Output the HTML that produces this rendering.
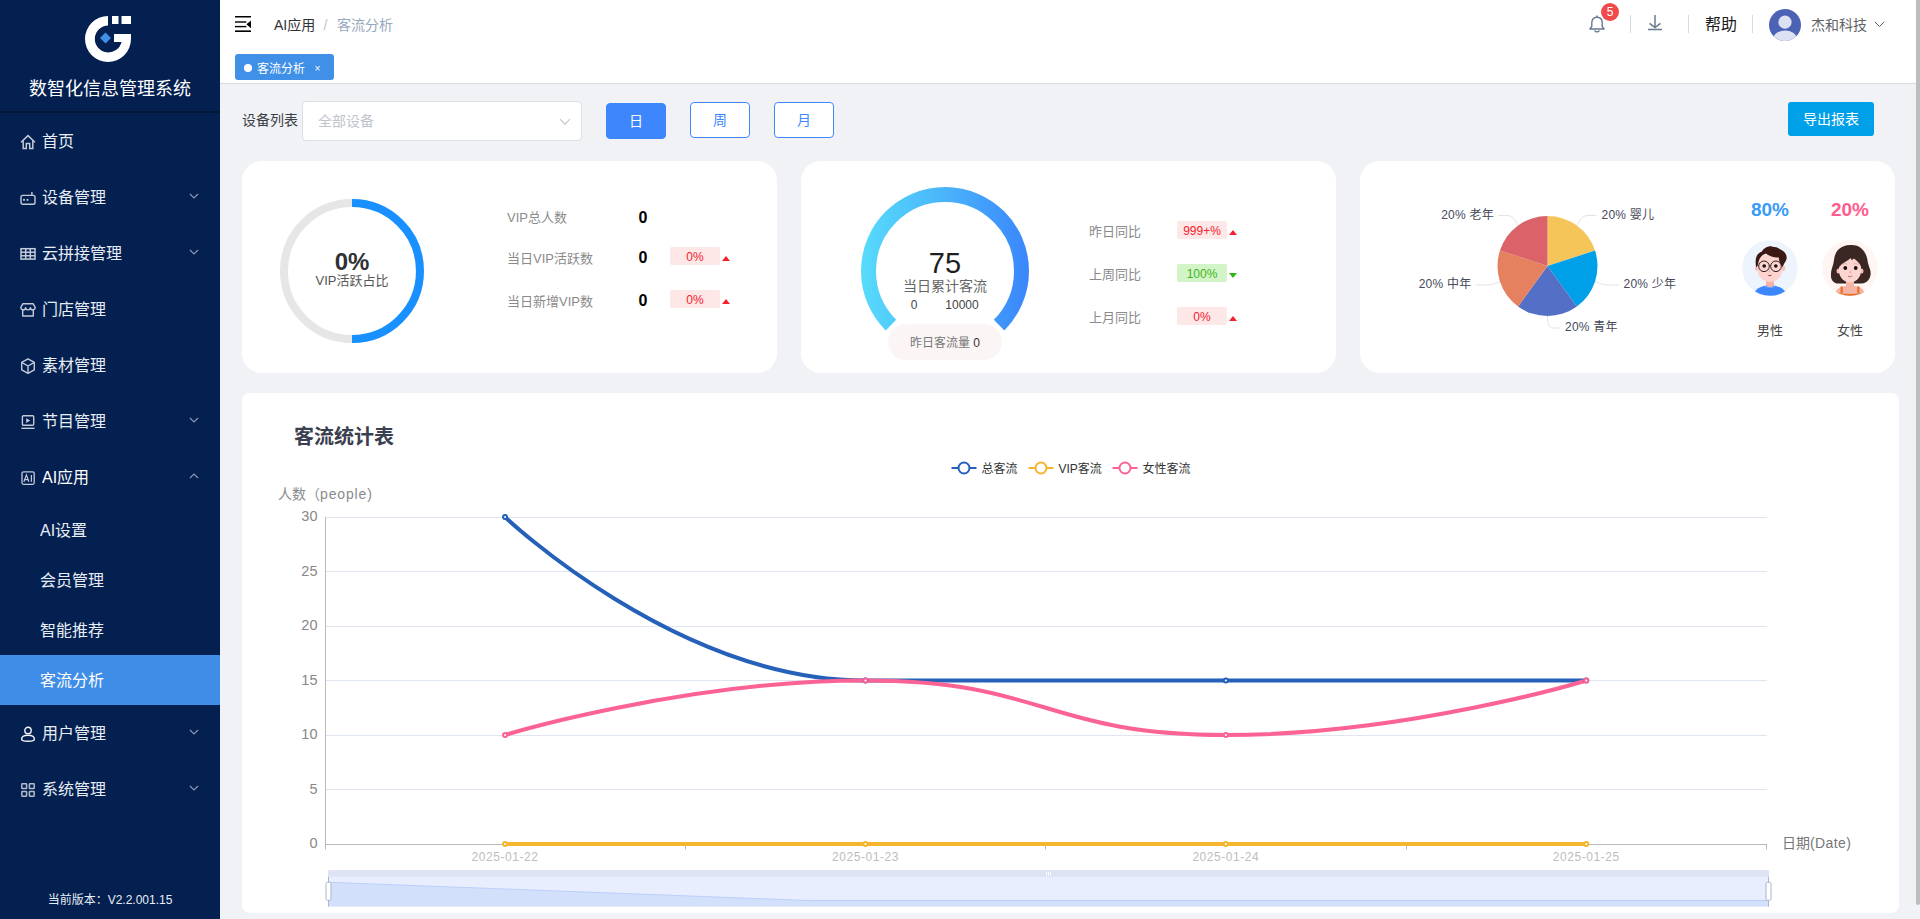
<!DOCTYPE html>
<html lang="zh-CN">
<head>
<meta charset="utf-8">
<title>数智化信息管理系统</title>
<style>
*{box-sizing:border-box;margin:0;padding:0}
html,body{width:1920px;height:919px;overflow:hidden}
body{font-family:"Liberation Sans","Noto Sans CJK SC",sans-serif;background:#f0f2f5;color:#303133;position:relative}
.abs{position:absolute}
/* sidebar */
#side{position:absolute;left:0;top:0;width:220px;height:919px;background:#032050;color:#e6ebf3}
#side .title{position:absolute;left:0;width:220px;top:75.5px;height:26px;line-height:26px;text-align:center;font-size:18px;color:#fff;letter-spacing:0}
#side .divider{position:absolute;left:0;top:111px;width:220px;height:2px;background:#011738}
.mi{position:absolute;left:0;width:220px;height:56px;line-height:56px;font-size:16px;color:#e8edf5;padding-left:42px}
.mi svg.ic{position:absolute;left:20px;top:21px;width:16px;height:16px}
.mi svg.ar{position:absolute;left:189px;top:23px;width:10px;height:8px}
.si{position:absolute;left:0;width:220px;height:50px;line-height:50px;font-size:16px;color:#e8edf5;padding-left:40px}
.si.act{background:#3f8de6;color:#fff}
#ver{position:absolute;left:0;width:220px;top:890.5px;height:18px;line-height:18px;text-align:center;font-size:12px;color:#e8edf5}
/* header */
#hdr{position:absolute;left:220px;top:0;width:1696px;height:50px;background:#fff;box-shadow:0 1px 4px rgba(0,21,41,.08)}
#tags{position:absolute;left:220px;top:50px;width:1696px;height:34px;background:#fff;border-bottom:1px solid #d8dce5}
#tag{position:absolute;left:15px;top:4px;width:99px;height:26px;background:#4090e8;border-radius:3px;color:#fff;font-size:12px;line-height:26px}
#sb{position:absolute;left:1916px;top:0;width:4px;height:919px;background:#f0f2f5}
#sb i{position:absolute;left:0;top:0;width:4px;height:905px;background:#bdbdbd;border-radius:0 0 2px 2px}
.bc{font-size:14px;line-height:21px;white-space:nowrap}
.badge{width:18px;height:18px;border-radius:9px;background:#f04a4a;color:#fff;font-size:12px;line-height:18px;text-align:center}
.sep{width:1px;height:18px;top:15px;background:#d5dbe3}
#tag .dot{position:absolute;left:9px;top:10px;width:8px;height:8px;border-radius:4px;background:#fff}
.mi span,.si span{position:relative;top:1px}
.mi.on{color:#fff}
.t14{font-size:14px;line-height:20px;white-space:nowrap}
.sel{width:280px;height:40px;border:1px solid #dcdfe6;border-radius:4px;background:#fff;font-size:14px;line-height:38px;color:#c0c4cc;padding-left:16px}
.sel span{position:relative;top:0;left:-1px}
.btn{width:60px;height:36px;border:1px solid #4088fc;border-radius:4px;background:#fff;color:#4088fc;font-size:14px;line-height:35px;text-align:center}
.btn.on{background:#3e86fb;border-color:#3e86fb;color:#fff}
.exp{width:86px;height:34px;border-radius:3px;background:#00a0e9;color:#fff;font-size:14px;line-height:34px;text-align:center}
.lab{font-size:13px;line-height:18px;color:#8a8a8a;white-space:nowrap}
.num{width:20px;text-align:center;font-size:16px;line-height:20px;font-weight:bold;color:#000}
.bdg{width:50px;height:18px;border-radius:2px;font-size:12px;line-height:20px;text-align:center}
.bdg.red{background:#fde7e7;color:#f5222d}
.bdg.grn{background:#d3f4c6;color:#3cb41a}
.tri{width:0;height:0;border-left:4.5px solid transparent;border-right:4.5px solid transparent}
.tri.up{border-bottom:5px solid #f5222d}
.tri.dn{border-top:5px solid #2fb813}
.pl{font-size:12px;line-height:18px;color:#464a5a;white-space:nowrap;letter-spacing:.25px}
.pct{width:80px;text-align:center;font-size:19px;line-height:24px;font-weight:bold}
.sex{width:80px;text-align:center;font-size:13px;line-height:20px;color:#444}
.card{position:absolute;background:#fff;border-radius:20px}
</style>
</head>
<body>
<div id="side">
  <svg class="abs" style="left:84px;top:15px" width="48" height="48" viewBox="0 0 48 48">
    <path d="M24 1 A23 23 0 1 0 47 24 L47 19 L30 19 L30 27 L37.5 27 A13.5 13.5 0 1 1 24 10.5 Z" fill="#fff"/>
    <rect x="28" y="1" width="6.5" height="8" fill="#fff"/>
    <rect x="37.5" y="1" width="9.5" height="8" fill="#fff"/>
    <path d="M21.5 17.5 L27 23 L21.5 28.5 L16 23 Z" fill="#4090e8"/>
  </svg>
  <div class="title">数智化信息管理系统</div>
  <div class="divider"></div>
  <div id="menu">
  <div class="mi" style="top:113px"><svg class="ic" viewBox="0 0 16 16" fill="none" stroke="#c3cad8" stroke-width="1.5" stroke-linejoin="miter"><path d="M1 8.2 L8 1.6 L15 8.2"/><path d="M3.2 6.8 V14.6 H6.3 V9.6 H9.7 V14.6 H12.8 V6.8"/></svg><span>首页</span></div>
  <div class="mi" style="top:169px"><svg class="ic" viewBox="0 0 16 16" fill="none" stroke="#c3cad8" stroke-width="1.4"><rect x="1" y="5.4" width="14" height="8.8" rx="1.8"/><path d="M11.900 5 V2"/><rect x="3.100" y="8.900" width="1.800" height="1.900" fill="#c3cad8" stroke="none"/><rect x="6.600" y="8.900" width="1.800" height="1.900" fill="#c3cad8" stroke="none"/></svg><span>设备管理</span><svg class="ar" viewBox="0 0 10 8" fill="none" stroke="#8c9bb8" stroke-width="1.1"><path d="M1 2 L5 6 L9 2"/></svg></div>
  <div class="mi" style="top:225px"><svg class="ic" viewBox="0 0 16 16" fill="none" stroke="#c3cad8" stroke-width="1.500"><rect x="1" y="2.700" width="14" height="10.400"/><path d="M1 6.200 H15 M1 9.700 H15 M5.700 2.700 V13.100 M10.300 2.700 V13.100"/></svg><span>云拼接管理</span><svg class="ar" viewBox="0 0 10 8" fill="none" stroke="#8c9bb8" stroke-width="1.1"><path d="M1 2 L5 6 L9 2"/></svg></div>
  <div class="mi" style="top:281px"><svg class="ic" viewBox="0 0 16 16" fill="none" stroke="#c3cad8" stroke-width="1.400" stroke-linejoin="round"><path d="M2.800 1.800 H13.200 L15.200 5.400 A2.400 2.300 0 0 1 10.400 5.600 A2.400 2.300 0 0 1 5.600 5.600 A2.400 2.300 0 0 1 0.800 5.400 Z"/><path d="M2.700 8 V14 H13.300 V8"/></svg><span>门店管理</span></div>
  <div class="mi" style="top:337px"><svg class="ic" viewBox="0 0 16 16" fill="none" stroke="#c3cad8" stroke-width="1.400" stroke-linejoin="round"><path d="M8 0.800 L14.300 4.400 V11.900 L8 15.300 L1.700 11.900 V4.400 Z"/><path d="M1.700 4.400 L8 8 L14.300 4.400 M8 8 V15.300"/></svg><span>素材管理</span></div>
  <div class="mi" style="top:393px"><svg class="ic" viewBox="0 0 16 16" fill="none" stroke="#c3cad8" stroke-width="1.400"><rect x="2.400" y="1.800" width="11.300" height="9.400" rx="1"/><path d="M1.400 14.300 H14.600"/><path d="M6.200 4.200 L10.200 6.600 L6.200 9 Z" fill="#c3cad8" stroke="none"/></svg><span>节目管理</span><svg class="ar" viewBox="0 0 10 8" fill="none" stroke="#8c9bb8" stroke-width="1.1"><path d="M1 2 L5 6 L9 2"/></svg></div>
  <div class="mi on" style="top:449px"><svg class="ic" viewBox="0 0 16 16" fill="none" stroke="#c3cad8" stroke-width="1.300"><rect x="2" y="1.800" width="12.200" height="12.500" rx="1.500"/><path d="M3.900 11.800 L6.400 4.900 L8.900 11.800 M4.800 9.600 H8 M11.400 4.900 V11.800" stroke-width="1.200"/></svg><span>AI应用</span><svg class="ar" viewBox="0 0 10 8" fill="none" stroke="#8c9bb8" stroke-width="1.1"><path d="M1 6 L5 2 L9 6"/></svg></div>
  <div class="si" style="top:505px"><span>AI设置</span></div>
  <div class="si" style="top:555px"><span>会员管理</span></div>
  <div class="si" style="top:605px"><span>智能推荐</span></div>
  <div class="si act" style="top:655px"><span>客流分析</span></div>
  <div class="mi" style="top:705px"><svg class="ic" viewBox="0 0 16 16" fill="none" stroke="#f2f4f8" stroke-width="1.4"><circle cx="8" cy="4.4" r="3.2"/><path d="M1.6 13.2 C1.6 9.6 4.6 9.2 8 9.2 C11.4 9.2 14.4 9.6 14.4 13.2 C14.4 14.8 12.8 15.2 8 15.2 C3.2 15.2 1.6 14.8 1.6 13.2 Z"/></svg><span>用户管理</span><svg class="ar" viewBox="0 0 10 8" fill="none" stroke="#8c9bb8" stroke-width="1.1"><path d="M1 2 L5 6 L9 2"/></svg></div>
  <div class="mi" style="top:761px"><svg class="ic" viewBox="0 0 16 16" fill="none" stroke="#b4bccb" stroke-width="1.5"><rect x="1.8" y="1.8" width="4.8" height="4.8" rx="0.6"/><rect x="9.4" y="1.8" width="4.8" height="4.8" rx="0.6"/><rect x="1.8" y="9.4" width="4.8" height="4.8" rx="0.6"/><rect x="9.4" y="9.4" width="4.8" height="4.8" rx="0.6"/></svg><span>系统管理</span><svg class="ar" viewBox="0 0 10 8" fill="none" stroke="#8c9bb8" stroke-width="1.1"><path d="M1 2 L5 6 L9 2"/></svg></div>
  </div>
  <div id="ver">当前版本：V2.2.001.15</div>
</div>
<div id="hdr">
  <svg class="abs" style="left:15px;top:16px" width="16" height="16" viewBox="0 0 16 16" fill="#000"><rect x="0" y="0" width="16" height="1.5"/><rect x="0" y="5.3" width="11.4" height="1.4"/><rect x="0" y="9.9" width="11.4" height="1.4"/><rect x="0" y="14.4" width="16" height="1.6"/><path d="M16 4.4 L11.4 8.3 L16 12.2 Z"/></svg>
  <div class="abs bc" style="left:54px;top:15px;color:#303133">AI应用</div>
  <div class="abs bc" style="left:103.5px;top:15px;color:#c0c4cc">/</div>
  <div class="abs bc" style="left:117px;top:15px;color:#97a8be">客流分析</div>
  <svg class="abs" style="left:1367.700px;top:14.700px" width="18" height="18" viewBox="0 0 18 18" fill="none" stroke="#66788e" stroke-width="1.4" stroke-linecap="round" stroke-linejoin="round"><path d="M9 2.200 C5.200 2.200 3.800 5 3.800 7.800 V11.400 L1.900 14 H16.100 L14.200 11.400 V7.800 C14.200 5 12.800 2.200 9 2.200 Z"/><path d="M7 16 C7.400 17.200 10.600 17.200 11 16"/><path d="M9 1 V2"/></svg>
  <div class="abs badge" style="left:1381px;top:3px">5</div>
  <i class="abs sep" style="left:1410px"></i>
  <svg class="abs" style="left:1427px;top:15px" width="16" height="16" viewBox="0 0 16 16" fill="none" stroke="#6a7b90" stroke-width="1.500"><path d="M8 0 V12.400 M2.600 8.300 L8 12.600 L13.400 8.300 M1 14.500 H15"/></svg>
  <i class="abs sep" style="left:1468px"></i>
  <div class="abs" style="left:1485px;top:14px;font-size:16px;line-height:22px;color:#1a1a1a">帮助</div>
  <i class="abs sep" style="left:1532px"></i>
  <svg class="abs" style="left:1548.500px;top:8.500px" width="32" height="32" viewBox="0 0 32 32"><defs><clipPath id="avc"><circle cx="16" cy="16" r="16"/></clipPath></defs><circle cx="16" cy="16" r="16" fill="#4b62b5"/><g clip-path="url(#avc)" fill="#dde2f3"><circle cx="16" cy="13.200" r="6.600"/><ellipse cx="16" cy="29.500" rx="11.500" ry="8"/></g></svg>
  <div class="abs" style="left:1591px;top:15px;font-size:14px;line-height:20px;color:#606266">杰和科技</div>
  <svg class="abs" style="left:1654px;top:21px" width="11" height="7" viewBox="0 0 11 7" fill="none" stroke="#606266" stroke-width="1"><path d="M0.800 0.800 L5.500 5.600 L10.200 0.800"/></svg>
</div>
<div id="tags"><div id="tag"><i class="dot"></i><span class="abs" style="left:22px;top:1.5px">客流分析</span><span class="abs" style="left:79.5px;top:1.5px;font-size:10px">×</span></div></div>
<div id="main">
<div class="abs t14" style="left:242px;top:110.3px;color:#3c3f45">设备列表</div>
<div class="abs sel" style="left:302px;top:101px"><span>全部设备</span><svg class="abs" style="left:256px;top:16px" width="12" height="8" viewBox="0 0 12 8" fill="none" stroke="#c0c4cc" stroke-width="1.1"><path d="M1 1.2 L6 6.2 L11 1.2"/></svg></div>
<div class="abs btn on" style="left:606px;top:103px">日</div>
<div class="abs btn" style="left:690px;top:102px">周</div>
<div class="abs btn" style="left:774px;top:102px">月</div>
<div class="abs exp" style="left:1788px;top:102px">导出报表</div>
<div class="card" style="left:242px;top:161px;width:535px;height:212px"></div>
<svg class="abs" style="left:272px;top:191px" width="160" height="160" viewBox="0 0 160 160" fill="none"><circle cx="80" cy="80" r="68" stroke="#e6e6e6" stroke-width="8"/><path d="M80 12 A68 68 0 0 1 80 148" stroke="#1890ff" stroke-width="8"/></svg>
<div class="abs" style="left:302px;top:248px;width:100px;text-align:center;font-size:24px;line-height:28px;font-weight:bold;color:#303133">0%</div>
<div class="abs" style="left:292px;top:271px;width:120px;text-align:center;font-size:13px;line-height:20px;color:#555">VIP活跃占比</div>
<div class="abs lab" style="left:507px;top:209.2px">VIP总人数</div>
<div class="abs num" style="left:633px;top:207.7px">0</div>
<div class="abs lab" style="left:507px;top:249.7px">当日VIP活跃数</div>
<div class="abs num" style="left:633px;top:248.2px">0</div>
<div class="abs bdg red" style="left:670px;top:247px">0%</div>
<i class="abs tri up" style="left:722px;top:255.8px"></i>
<div class="abs lab" style="left:507px;top:292.7px">当日新增VIP数</div>
<div class="abs num" style="left:633px;top:291.2px">0</div>
<div class="abs bdg red" style="left:670px;top:290px">0%</div>
<i class="abs tri up" style="left:722px;top:298.8px"></i>
<div class="card" style="left:801px;top:161px;width:535px;height:212px"></div>
<svg class="abs" style="left:845px;top:171px" width="200" height="200" viewBox="845 171 200 200" fill="none"><defs><linearGradient id="gg" gradientUnits="userSpaceOnUse" x1="861" y1="0" x2="1029" y2="0"><stop offset="0" stop-color="#57dbfb"/><stop offset="0.5" stop-color="#4ab4fb"/><stop offset="1" stop-color="#3a86fb"/></linearGradient></defs><path d="M890.91 325.09 A76.5 76.5 0 1 1 999.09 325.09" stroke="url(#gg)" stroke-width="15"/></svg>
<div class="abs" style="left:895px;top:247px;width:100px;text-align:center;font-size:29px;line-height:32px;color:#1f1f1f">75</div>
<div class="abs" style="left:885px;top:275.5px;width:120px;text-align:center;font-size:14px;line-height:20px;color:#666">当日累计客流</div>
<div class="abs" style="left:894px;top:296px;width:40px;text-align:center;font-size:12px;line-height:18px;color:#444">0</div>
<div class="abs" style="left:932px;top:296px;width:60px;text-align:center;font-size:12px;line-height:18px;color:#444">10000</div>
<div class="abs" style="left:888px;top:324px;width:114px;height:36px;border-radius:18px;background:#fbf6f5;text-align:center;font-size:12px;line-height:38px;color:#777">昨日客流量 <span style="color:#333">0</span></div>
<div class="abs lab" style="left:1089px;top:223px">昨日同比</div>
<div class="abs bdg red" style="left:1177px;top:221px">999+%</div>
<i class="abs tri up redt" style="left:1229px;top:230px"></i>
<div class="abs lab" style="left:1089px;top:266px">上周同比</div>
<div class="abs bdg grn" style="left:1177px;top:264px">100%</div>
<i class="abs tri dn grnt" style="left:1229px;top:273px"></i>
<div class="abs lab" style="left:1089px;top:309px">上月同比</div>
<div class="abs bdg red" style="left:1177px;top:307px">0%</div>
<i class="abs tri up redt" style="left:1229px;top:316px"></i>
<div class="card" style="left:1360px;top:161px;width:535px;height:212px"></div>
<svg class="abs" style="left:1400px;top:190px" width="300" height="160" viewBox="1400 190 300 160"><path d="M1547.5 266 L1547.5 216 A50 50 0 0 1 1595.05 250.55 Z" fill="#f6c55a"/><path d="M1547.5 266 L1595.05 250.55 A50 50 0 0 1 1576.89 306.45 Z" fill="#00a0e9"/><path d="M1547.5 266 L1576.89 306.45 A50 50 0 0 1 1518.11 306.45 Z" fill="#5470c6"/><path d="M1547.5 266 L1518.11 306.45 A50 50 0 0 1 1499.95 250.55 Z" fill="#e5815f"/><path d="M1547.5 266 L1499.95 250.55 A50 50 0 0 1 1547.5 216 Z" fill="#da6268"/><!--LL--><g fill="none" stroke="#e2e2e2" stroke-width="1">
<path d="M1577 225.500 C1580 219 1583 215.500 1588 215.500 L1596.500 215.500"/>
<path d="M1595 281.500 C1599 283.500 1604 285 1609 285 L1619 285"/>
<path d="M1547.500 316 C1547.500 324 1548.500 328 1553 328 L1560 328"/>
<path d="M1500 281.500 C1496 283.500 1491 285 1486 285 L1476 285"/>
<path d="M1518 225.500 C1515 219 1512 215.500 1507 215.500 L1498.500 215.500"/>
</g><!--/LL--></svg>
<div class="abs pl" style="left:1601.5px;top:205.7px">20% 婴儿</div>
<div class="abs pl" style="left:1623.5px;top:274.6px">20% 少年</div>
<div class="abs pl" style="left:1565px;top:317.5px">20% 青年</div>
<div class="abs pl" style="left:1391.5px;width:80px;text-align:right;top:274.6px">20% 中年</div>
<div class="abs pl" style="left:1414px;width:80px;text-align:right;top:205.7px">20% 老年</div>
<div class="abs pct" style="left:1730px;top:197.7px;color:#3a9bf7">80%</div>
<div class="abs pct" style="left:1810px;top:197.7px;color:#ff5c8d">20%</div>
<!--AV--><svg class="abs" style="left:1742px;top:240px" width="56" height="56" viewBox="0 0 56 56"><defs><clipPath id="mc"><circle cx="28" cy="28" r="27.800"/></clipPath></defs>
<circle cx="28" cy="28" r="27.800" fill="#eef4fe"/>
<g clip-path="url(#mc)">
<ellipse cx="28" cy="56" rx="16.500" ry="10.800" fill="#3d87fc"/>
<path d="M24 39 H32 V45.500 C30 47.500 26 47.500 24 45.500 Z" fill="#f7b4a8"/>
<path d="M22.500 46.200 C25 48 31 48 33.500 46.200" fill="none" stroke="#8db9fd" stroke-width="0.600"/>
<ellipse cx="14.800" cy="28.300" rx="1.800" ry="2.600" fill="#f9bdb6"/><ellipse cx="41.400" cy="28.300" rx="1.800" ry="2.600" fill="#f9bdb6"/>
<path d="M15.500 22 C15.500 12 40.500 12 40.500 22 V30 C40.500 37 34 42 28 42 C22 42 15.500 37 15.500 30 Z" fill="#fcd3ce"/>
<path d="M14.200 27.500 C12.500 19 14.500 13 20 11.500 C22 7.500 28 5 31.500 7 C34 6.500 37 8 37.500 9 C42 10.500 45.500 14.500 44.500 19 C44 22 41.500 23.500 40.800 27 C38 24 36.500 20 37 17.500 C33 18 26 15.500 24 13.500 C20.500 14.500 17 18 16.500 22.500 C16 24.500 15.500 26 14.200 27.500 Z" fill="#3a1814"/>
<circle cx="22" cy="26.300" r="5.300" fill="none" stroke="#2c2222" stroke-width="1"/><circle cx="34" cy="26.300" r="5.300" fill="none" stroke="#2c2222" stroke-width="1"/>
<path d="M27.300 25.800 H28.700 M16.700 25.500 L15 25 M39.300 25.500 L41 25" stroke="#2c2222" stroke-width="0.900"/>
<circle cx="22.200" cy="26" r="1.800" fill="#160f0f"/><circle cx="33.800" cy="26" r="1.800" fill="#160f0f"/>
<path d="M27.800 29 L27 31.800 L28.500 31.800" fill="none" stroke="#f2a7a0" stroke-width="0.700"/>
<path d="M25.500 34.700 Q27.800 35.300 30 34.700 Q27.800 37.400 25.500 34.700 Z" fill="#8c2b25"/>
</g></svg><svg class="abs" style="left:1822px;top:240px" width="56" height="56" viewBox="0 0 56 56"><defs><clipPath id="fc"><circle cx="28" cy="28" r="27.800"/></clipPath></defs>
<circle cx="28" cy="28" r="27.800" fill="#fff5f2"/>
<g clip-path="url(#fc)">
<path d="M28 5 C38 4 44 11 45.500 20 C46 26 49.500 30 48.500 35 C48 40 44 43 40 43.500 H16 C12 43.500 8.500 40 9 35 C8.500 30 11.500 26 12 20 C13 11 18 5.500 28 5 Z" fill="#3a2623"/>
<path d="M13 56 C13 49 18 46.500 24 46 H32 C38 46.500 43 49 43 56 Z" fill="#f5b5a5"/>
<path d="M24 40 H32 V47 C30 49 26 49 24 47 Z" fill="#f5b5a5"/>
<path d="M18.500 46.500 H20.800 V53 H18.500 Z M35.200 46.500 H37.500 V53 H35.200 Z" fill="#e8722c"/>
<path d="M14 52.600 C20 54.500 36 54.500 42 52.600 V57 H14 Z" fill="#e8722c"/>
<ellipse cx="16.300" cy="31" rx="1.800" ry="2.500" fill="#f9c0b8"/><ellipse cx="39.700" cy="31" rx="1.800" ry="2.500" fill="#f9c0b8"/>
<path d="M17 26 C17 15 39 15 39 26 V31 C39 38 33 42.500 28 42.500 C23 42.500 17 38 17 31 Z" fill="#fcd5d0"/>
<path d="M16.500 28 C15.500 18 22 14 28 14 C34 14 40.500 18 39.500 28 C38.500 24 36 21.500 32 18.500 C31 19 30.500 19.500 30 20.500 C29.500 19.500 29 19 28.500 18 C25.500 21.500 20 22.500 16.500 28 Z" fill="#3a2623"/>
<circle cx="23.300" cy="28" r="1.900" fill="#1a1212"/><circle cx="33.700" cy="28" r="1.900" fill="#1a1212"/>
<path d="M20.500 24.300 Q23 23 25.300 24 M31.300 24 Q33.800 23 36.300 24.300" fill="none" stroke="#c99b95" stroke-width="0.600"/>
<path d="M28.600 30.500 L28 33 L29.300 33" fill="none" stroke="#ee8f8f" stroke-width="0.800"/>
<path d="M26 36 Q28 37.800 30.200 36" fill="none" stroke="#a8443e" stroke-width="0.700"/>
</g></svg><!--/AV-->
<div class="abs sex" style="left:1730px;top:320.7px">男性</div>
<div class="abs sex" style="left:1810px;top:320.7px">女性</div>
<div class="card" style="left:242px;top:393px;width:1657px;height:520px;border-radius:8px"></div>
<div class="abs" style="left:294px;top:423px;font-size:20px;line-height:28px;font-weight:bold;color:#3b4050">客流统计表</div>
<!--CH--><svg class="abs" style="left:242px;top:450px" width="1657" height="463" viewBox="242 450 1657 463" font-family="Liberation Sans, Noto Sans CJK SC, sans-serif">
<path d="M325 789.5 H1767" stroke="#dfe5f1" stroke-width="1"/>
<path d="M325 735.5 H1767" stroke="#dfe5f1" stroke-width="1"/>
<path d="M325 680.5 H1767" stroke="#dfe5f1" stroke-width="1"/>
<path d="M325 626.5 H1767" stroke="#dfe5f1" stroke-width="1"/>
<path d="M325 571.5 H1767" stroke="#dfe5f1" stroke-width="1"/>
<path d="M325 517.5 H1767" stroke="#dfe5f1" stroke-width="1"/>
<path d="M325.500 517.0 V845.0" stroke="#b9b9b9" stroke-width="1"/>
<path d="M325 844.5 H1767" stroke="#b9b9b9" stroke-width="1"/>
<path d="M325.5 844.5 v5" stroke="#b9b9b9" stroke-width="1"/>
<path d="M685.5 844.5 v5" stroke="#b9b9b9" stroke-width="1"/>
<path d="M1045.5 844.5 v5" stroke="#b9b9b9" stroke-width="1"/>
<path d="M1406.5 844.5 v5" stroke="#b9b9b9" stroke-width="1"/>
<path d="M1766.5 844.5 v5" stroke="#b9b9b9" stroke-width="1"/>
<text x="317.500" y="848" text-anchor="end" font-size="14.500" fill="#888">0</text>
<text x="317.500" y="793.5" text-anchor="end" font-size="14.500" fill="#888">5</text>
<text x="317.500" y="739" text-anchor="end" font-size="14.500" fill="#888">10</text>
<text x="317.500" y="684.5" text-anchor="end" font-size="14.500" fill="#888">15</text>
<text x="317.500" y="630" text-anchor="end" font-size="14.500" fill="#888">20</text>
<text x="317.500" y="575.5" text-anchor="end" font-size="14.500" fill="#888">25</text>
<text x="317.500" y="521" text-anchor="end" font-size="14.500" fill="#888">30</text>
<text x="278" y="499" font-size="14" fill="#8a8a8a">人数（<tspan letter-spacing="0.85">people)</tspan></text>
<text x="1782" y="848" font-size="14" fill="#777">日期<tspan letter-spacing="0.4">(Date)</tspan></text>
<text x="505.05" y="861" text-anchor="middle" font-size="12" letter-spacing="0.55" fill="#bdbdbd">2025-01-22</text>
<text x="865.45" y="861" text-anchor="middle" font-size="12" letter-spacing="0.55" fill="#bdbdbd">2025-01-23</text>
<text x="1225.85" y="861" text-anchor="middle" font-size="12" letter-spacing="0.55" fill="#bdbdbd">2025-01-24</text>
<text x="1586.25" y="861" text-anchor="middle" font-size="12" letter-spacing="0.55" fill="#bdbdbd">2025-01-25</text>
<path d="M505.05 517 C505.05 517 676.82 680.5 865.45 680.5 C1037.22 680.5 1045.65 680.5 1225.85 680.5 C1406.05 680.5 1586.25 680.5 1586.25 680.5" fill="none" stroke="#2560b9" stroke-width="4" stroke-linejoin="round"/>
<path d="M505.05 844 C505.05 844 685.25 844 865.45 844 C1045.65 844 1045.65 844 1225.85 844 C1406.05 844 1586.25 844 1586.25 844" fill="none" stroke="#f5b52e" stroke-width="4" stroke-linejoin="round"/>
<path d="M505.05 735 C505.05 735 685.25 680.5 865.45 680.5 C1045.65 680.5 1045.65 735 1225.85 735 C1406.05 735 1586.25 680.5 1586.25 680.5" fill="none" stroke="#fb6394" stroke-width="4" stroke-linejoin="round"/>
<circle cx="505.05" cy="517" r="2" fill="#fff" stroke="#2560b9" stroke-width="2"/>
<circle cx="865.45" cy="680.5" r="2" fill="#fff" stroke="#2560b9" stroke-width="2"/>
<circle cx="1225.85" cy="680.5" r="2" fill="#fff" stroke="#2560b9" stroke-width="2"/>
<circle cx="1586.25" cy="680.5" r="2" fill="#fff" stroke="#2560b9" stroke-width="2"/>
<circle cx="505.05" cy="844" r="2" fill="#fff" stroke="#f5b52e" stroke-width="2"/>
<circle cx="865.45" cy="844" r="2" fill="#fff" stroke="#f5b52e" stroke-width="2"/>
<circle cx="1225.85" cy="844" r="2" fill="#fff" stroke="#f5b52e" stroke-width="2"/>
<circle cx="1586.25" cy="844" r="2" fill="#fff" stroke="#f5b52e" stroke-width="2"/>
<circle cx="505.05" cy="735" r="2" fill="#fff" stroke="#fb6394" stroke-width="2"/>
<circle cx="865.45" cy="680.5" r="2" fill="#fff" stroke="#fb6394" stroke-width="2"/>
<circle cx="1225.85" cy="735" r="2" fill="#fff" stroke="#fb6394" stroke-width="2"/>
<circle cx="1586.25" cy="680.5" r="2" fill="#fff" stroke="#fb6394" stroke-width="2"/>
<path d="M951.5 468 h25" stroke="#2560b9" stroke-width="2"/><circle cx="964.0" cy="468" r="5.500" fill="#fff" stroke="#2560b9" stroke-width="2"/>
<text x="981.5" y="472.500" font-size="12" fill="#333">总客流</text>
<path d="M1028.5 468 h25" stroke="#f5b52e" stroke-width="2"/><circle cx="1041.0" cy="468" r="5.500" fill="#fff" stroke="#f5b52e" stroke-width="2"/>
<text x="1058.5" y="472.500" font-size="12" fill="#333">VIP客流</text>
<path d="M1112.5 468 h25" stroke="#fb6394" stroke-width="2"/><circle cx="1125.0" cy="468" r="5.500" fill="#fff" stroke="#fb6394" stroke-width="2"/>
<text x="1142.5" y="472.500" font-size="12" fill="#333">女性客流</text>
<rect x="328.0" y="870.200" width="1441.0" height="36.400" rx="1" fill="#e8eefd"/>
<path d="M328.0 906.500 V882.300 L808.33 900.500 H1769.0 V906.500 Z" fill="#d3e0fb"/>
<path d="M328.0 882.300 L808.33 900.500 H1769.0" fill="none" stroke="#bccffa" stroke-width="1"/>
<path d="M328.0 876.700 V871.200 a1 1 0 0 1 1 -1 H1768.0 a1 1 0 0 1 1 1 V876.700 Z" fill="#dde3f3"/>
<path d="M328.5 876.700 V906.600 M1768.5 876.700 V906.600" stroke="#aab6d2" stroke-width="1"/>
<path d="M1046.500 872 v3.500 M1048.500 872 v3.500 M1050.500 872 v3.500" stroke="#fff" stroke-width="1"/>
<rect x="326.0" y="882.300" width="5" height="18" rx="1.500" fill="#fff" stroke="#a9b5cc" stroke-width="1"/>
<rect x="1766.0" y="882.300" width="5" height="18" rx="1.500" fill="#fff" stroke="#a9b5cc" stroke-width="1"/>
</svg><!--/CH-->
</div>
<div id="sb"><i></i></div>
</body>
</html>
